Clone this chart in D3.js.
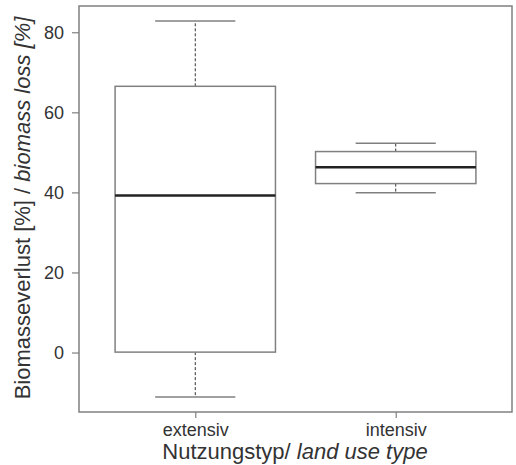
<!DOCTYPE html>
<html><head><meta charset="utf-8">
<script src="https://cdn.jsdelivr.net/npm/d3@7/dist/d3.min.js"></script>
<style>body{margin:0;background:#fff}svg{display:block}text{font-family:"Liberation Sans",Arial,sans-serif;fill:#333}</style>
</head><body>
<script>
const categories = ["extensiv", "intensiv"];
const whiskerLow = [-11.1, 39.9];
const q1 = [0.1, 42.2];
const median = [39.2, 46.3];
const q3 = [66.5, 50.2];
const whiskerHigh = [82.8, 52.3];
const yTicks = [0, 20, 40, 60, 80];

const W = 516, H = 465;
const m = {l: 79, r: 4, t: 6, b: 53};
const svg = d3.select("body").append("svg").attr("width", W).attr("height", H);
const x = d3.scaleLinear().domain([0.42, 2.58]).range([m.l, W - m.r]);
const y = d3.scaleLinear().domain([-14.86, 86.56]).range([H - m.b, m.t]);
const lineC = "#808080";
const font = '"Liberation Sans",Arial,sans-serif';

svg.append("rect").attr("x", m.l).attr("y", m.t).attr("width", W - m.r - m.l).attr("height", H - m.b - m.t)
  .attr("fill", "none").attr("stroke", lineC).attr("stroke-width", 1.5);

const yAxis = svg.append("g").attr("transform", `translate(${m.l},0)`)
  .call(d3.axisLeft(y).tickValues(yTicks).tickSize(7).tickPadding(8));
yAxis.select(".domain").remove();
yAxis.selectAll("line").attr("stroke", lineC).attr("stroke-width", 1.2);
yAxis.selectAll("text").style("font-size", "18px").style("font-family", font).attr("fill", "#444");

const xAxis = svg.append("g").attr("transform", `translate(0,${H - m.b})`)
  .call(d3.axisBottom(x).tickValues([1, 2]).tickFormat((d, i) => categories[i]).tickSize(6).tickPadding(5));
xAxis.select(".domain").remove();
xAxis.selectAll("line").attr("stroke", lineC).attr("stroke-width", 1.2);
xAxis.selectAll("text").style("font-size", "18px").style("font-family", font).attr("fill", "#444");

const boxW = 0.8, capW = 0.4;
categories.forEach((c, i) => {
  const cx = i + 1;
  const g = svg.append("g");
  g.append("line").attr("x1", x(cx)).attr("x2", x(cx)).attr("y1", y(q3[i])).attr("y2", y(whiskerHigh[i]))
    .attr("stroke", "#333").attr("stroke-width", 1).attr("stroke-dasharray", "3,2");
  g.append("line").attr("x1", x(cx)).attr("x2", x(cx)).attr("y1", y(q1[i])).attr("y2", y(whiskerLow[i]))
    .attr("stroke", "#333").attr("stroke-width", 1).attr("stroke-dasharray", "3,2");
  [whiskerHigh[i], whiskerLow[i]].forEach(v => {
    g.append("line").attr("x1", x(cx - capW / 2)).attr("x2", x(cx + capW / 2)).attr("y1", y(v)).attr("y2", y(v))
      .attr("stroke", lineC).attr("stroke-width", 1.5);
  });
  g.append("rect").attr("x", x(cx - boxW / 2)).attr("width", x(cx + boxW / 2) - x(cx - boxW / 2))
    .attr("y", y(q3[i])).attr("height", y(q1[i]) - y(q3[i]))
    .attr("fill", "#fff").attr("stroke", lineC).attr("stroke-width", 1.5);
  g.append("line").attr("x1", x(cx - boxW / 2)).attr("x2", x(cx + boxW / 2)).attr("y1", y(median[i])).attr("y2", y(median[i]))
    .attr("stroke", "#222").attr("stroke-width", 2.5);
});

svg.append("text").attr("x", 295).attr("y", 459).attr("text-anchor", "middle")
  .style("font-size", "22px")
  .call(t => { t.append("tspan").text("Nutzungstyp/ "); t.append("tspan").style("font-style", "italic").text("land use type"); });

svg.append("text").attr("transform", `translate(30,208) rotate(-90)`).attr("text-anchor", "middle")
  .style("font-size", "22px")
  .call(t => { t.append("tspan").text("Biomasseverlust [%] / "); t.append("tspan").style("font-style", "italic").text("biomass loss [%]"); });
</script>
</body></html>
